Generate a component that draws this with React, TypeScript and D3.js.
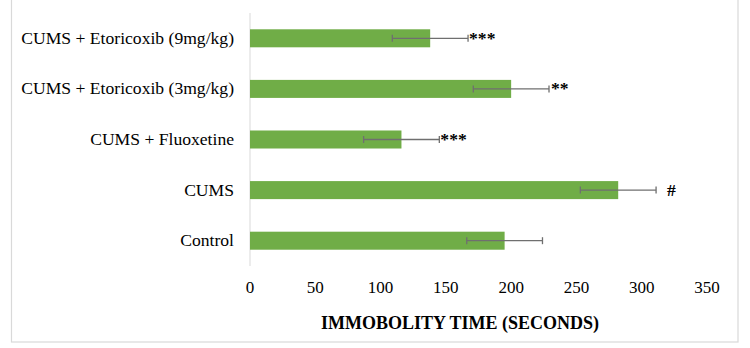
import React from "react";
import * as d3 from "d3";

// Groups, listed top to bottom as drawn
const groups = [
  "CUMS + Etoricoxib (9mg/kg)",
  "CUMS + Etoricoxib (3mg/kg)",
  "CUMS + Fluoxetine",
  "CUMS",
  "Control",
];
// Mean immobility time (s)
const means = [138, 200, 116, 282, 195];
// Error (± s)
const errors = [29, 29, 29, 29, 29];
// Significance marks
const marks = ["***", "**", "***", "#", ""];
const xTicks = [0, 50, 100, 150, 200, 250, 300, 350];
const axisTitle = "IMMOBOLITY TIME (SECONDS)";

const W = 750;
const H = 348;
const FONT = "Liberation Serif, Times New Roman, serif";
const GREEN = "#70AD47";
const ERR = "#6f6f6f";
const GRID = "#d9d9d9";
// horizontal gap between an error bar end and its mark
const markGap = [1, 2, 1, 11, 0];

export default function App() {
  const x = d3.scaleLinear().domain([0, 350]).range([250, 707]);
  const y = d3
    .scaleBand<string>()
    .domain(groups)
    .range([13, 266])
    .paddingInner(0.644)
    .paddingOuter(0.322);
  const bw = y.bandwidth();

  return (
    <svg
      width={W}
      height={H}
      style={{ position: "absolute", left: 0, top: 0, background: "#fff", fontFamily: FONT }}
    >
      <rect x={11.5} y={-2} width={726.5} height={344} fill="#fff" stroke={GRID} strokeWidth={1.2} />

      {/* category axis line */}
      <line x1={x(0)} x2={x(0)} y1={13} y2={266} stroke={GRID} strokeWidth={1} />

      {groups.map((g, i) => {
        const y0 = y(g)!;
        const cy = y0 + bw / 2;
        const lo = x(means[i] - errors[i]);
        const hi = x(means[i] + errors[i]);
        return (
          <g key={g}>
            <text x={234} y={cy + 5.5} textAnchor="end" fontSize={17.6} fill="#000">
              {g}
            </text>
            <rect x={x(0)} y={y0} width={x(means[i]) - x(0)} height={bw} fill={GREEN} />
            <line x1={lo} x2={hi} y1={cy} y2={cy} stroke={ERR} strokeWidth={1.3} />
            <line x1={lo} x2={lo} y1={cy - 3.5} y2={cy + 3.5} stroke={ERR} strokeWidth={1.3} />
            <line x1={hi} x2={hi} y1={cy - 3.5} y2={cy + 3.5} stroke={ERR} strokeWidth={1.3} />
            {marks[i] && (
              <text x={hi + markGap[i]} y={cy + 5.5} fontSize={17.6} fontWeight="bold" fill="#000">
                {marks[i]}
              </text>
            )}
          </g>
        );
      })}

      {xTicks.map((t) => (
        <text key={t} x={x(t)} y={292.5} textAnchor="middle" fontSize={17} fill="#000">
          {t}
        </text>
      ))}

      <text x={460} y={329} textAnchor="middle" fontSize={18} fontWeight="bold" fill="#000">
        {axisTitle}
      </text>
    </svg>
  );
}
